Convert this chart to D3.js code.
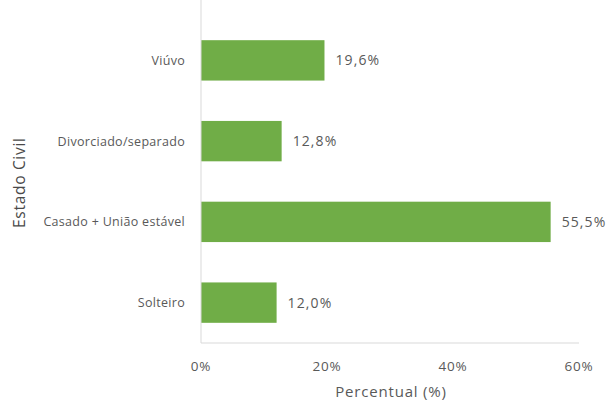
<!DOCTYPE html>
<html lang="pt">
<head>
    <meta charset="UTF-8">
    <title>Estado Civil</title>
    <script src="https://d3js.org/d3.v7.min.js"></script>
    <style>
        body { margin: 0; background: #fff; font-family: "Open Sans", Arial, sans-serif; }
        .lbl { fill: #595959; }
    </style>
</head>
<body>
    <div id="chart"></div>
    <script>
        // data (top to bottom as drawn)
        const categories = ["Viúvo", "Divorciado/separado", "Casado + União estável", "Solteiro"];
        const values = [19.6, 12.8, 55.5, 12.0];
        const xTicks = [0, 20, 40, 60];

        const width = 608, height = 403;
        const margin = { top: 20, right: 29, bottom: 60, left: 201 };

        const svg = d3.select("#chart").append("svg")
            .attr("width", width)
            .attr("height", height);

        const x = d3.scaleLinear()
            .domain([0, 60])
            .range([margin.left, width - margin.right]);

        const y = d3.scaleBand()
            .domain(categories)
            .range([margin.top, height - margin.bottom])
            .paddingInner(0.5)
            .paddingOuter(0.25);

        // bars
        svg.append("g")
            .selectAll("rect")
            .data(values)
            .join("rect")
            .attr("x", x(0))
            .attr("y", (d, i) => y(categories[i]))
            .attr("width", d => x(d) - x(0))
            .attr("height", y.bandwidth())
            .attr("fill", "#70ad47");

        // value labels
        svg.append("g")
            .selectAll("text")
            .data(values)
            .join("text")
            .attr("class", "lbl")
            .attr("x", d => x(d) + 11)
            .attr("y", (d, i) => y(categories[i]) + y.bandwidth() / 2)
            .attr("dy", "0.35em")
            .attr("font-size", 14)
            .attr("letter-spacing", 1.1)
            .text(d => d.toFixed(1).replace(".", ",") + "%");

        // axis lines
        svg.append("line")
            .attr("x1", x(0)).attr("x2", x(0))
            .attr("y1", 0).attr("y2", height - margin.bottom)
            .attr("stroke", "#d9d9d9");
        svg.append("line")
            .attr("x1", x(0)).attr("x2", x(60))
            .attr("y1", height - margin.bottom).attr("y2", height - margin.bottom)
            .attr("stroke", "#d9d9d9");

        // category labels
        svg.append("g")
            .selectAll("text")
            .data(categories)
            .join("text")
            .attr("class", "lbl")
            .attr("x", 185)
            .attr("y", d => y(d) + y.bandwidth() / 2)
            .attr("dy", "0.35em")
            .attr("text-anchor", "end")
            .attr("font-size", 12.5)
            .attr("letter-spacing", 0.3)
            .text(d => d);

        // x tick labels
        svg.append("g")
            .selectAll("text")
            .data(xTicks)
            .join("text")
            .attr("class", "lbl")
            .attr("x", d => x(d))
            .attr("y", 371)
            .attr("text-anchor", "middle")
            .attr("font-size", 13.5)
            .attr("letter-spacing", 0.8)
            .text(d => d + "%");

        // axis titles
        svg.append("text")
            .attr("class", "lbl")
            .attr("x", 391)
            .attr("y", 397)
            .attr("text-anchor", "middle")
            .attr("font-size", 15)
            .attr("letter-spacing", 0.8)
            .text("Percentual (%)");

        svg.append("text")
            .attr("fill", "#4a4a4a")
            .attr("transform", "translate(25,228) rotate(-90)")
            .attr("text-anchor", "start")
            .attr("font-size", 15.5)
            .attr("textLength", 90)
            .attr("lengthAdjust", "spacing")
            .text("Estado Civil");
    </script>
</body>
</html>
